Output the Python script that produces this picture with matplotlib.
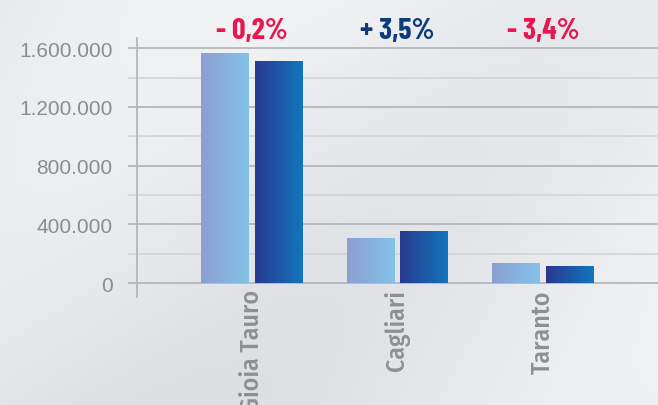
import matplotlib
matplotlib.use("Agg")
import matplotlib.pyplot as plt
import matplotlib.transforms as mtransforms
from matplotlib.colors import LinearSegmentedColormap
import numpy as np

categories = ["Gioia Tauro", "Cagliari", "Taranto"]
series_prev = [1568000, 307000, 136000]
series_curr = [1513000, 354000, 116000]
changes = ["- 0,2%", "+ 3,5%", "- 3,4%"]
change_colors = ["#e8174f", "#0d3b7a", "#e8174f"]
yticks = [0, 400000, 800000, 1200000, 1600000]
ytick_labels = ["0", "400.000", "800.000", "1.200.000", "1.600.000"]

COND = "Barlow Condensed"
LABF = "Fira Sans Condensed"

fig = plt.figure(figsize=(6.58, 4.06), dpi=100)
bg = fig.add_axes([0, 0, 1, 1], zorder=-10)
yy, xx = np.mgrid[0:1:200j, 0:1:300j]
bgv = 0.5 + 0.25 * np.sin(xx * 5 + yy * 3) + 0.25 * (xx - yy)
bgmap = LinearSegmentedColormap.from_list("bg", ["#dde0e3", "#f1f3f5"])
bg.imshow(bgv, cmap=bgmap, aspect="auto", extent=[0, 1, 0, 1])
bg.axis("off")

ax = fig.add_axes([137 / 658, 108 / 406, 521 / 658, 259 / 406])
ax.patch.set_alpha(0)

x = np.arange(len(categories))
w = 0.326
off = 0.1837
b1 = ax.bar(x - off, series_prev, width=w, color="#8ab0de", zorder=3)
b2 = ax.bar(x + off, series_curr, width=w, color="#1f55a5", zorder=3)

grad = np.linspace(0, 1, 100).reshape(1, -1)
cm1 = LinearSegmentedColormap.from_list("c1", ["#8c9fd2", "#84c2ea"])
cm2 = LinearSegmentedColormap.from_list("c2", ["#283a8e", "#1275bd"])
for bars, cm in ((b1, cm1), (b2, cm2)):
    for r in bars:
        x0, y0 = r.get_x(), r.get_y()
        im = ax.imshow(grad, cmap=cm, aspect="auto", zorder=4,
                       extent=[x0, x0 + r.get_width(), y0, y0 + r.get_height()])
        im.set_clip_path(r)
ax.set_xlim(-0.788, 2.79)
ax.set_ylim(-95400, 1670000)

for v in range(0, 1700000, 200000):
    major = v % 400000 == 0
    ax.axhline(v, color="#b4b6b9" if major else "#d0d2d5", lw=1.3 if major else 1.1, zorder=1)
ax.set_yticks(yticks)
ax.set_yticklabels(ytick_labels, fontsize=15, color="#8c8c8e", family="Liberation Sans")
ax.set_yticks(range(200000, 1700000, 400000), minor=True)
ax.tick_params(axis="y", which="major", length=6.5, width=1.3, color="#b4b6b9", pad=11)
ax.tick_params(axis="y", which="minor", length=6.5, width=1.1, color="#d0d2d5")

ax.set_xticks(x)
ax.set_xticklabels(categories, rotation=90, fontsize=18.5, color="#8e8f93",
                   family=LABF, fontweight=500, va="top")
ax.tick_params(axis="x", length=0, pad=-5.5)

for s in ("top", "right", "bottom"):
    ax.spines[s].set_visible(False)
ax.spines["left"].set_color("#b4b6b9")
ax.spines["left"].set_linewidth(1.3)

trans = mtransforms.blended_transform_factory(ax.transData, fig.transFigure)
for xi, t, c in zip(x, changes, change_colors):
    ax.text(xi, (406 - 31) / 406, t, transform=trans, ha="center", va="center",
            fontsize=21.5, fontweight="bold", color=c, family=COND)

fig.savefig("out.png", dpi=100)
